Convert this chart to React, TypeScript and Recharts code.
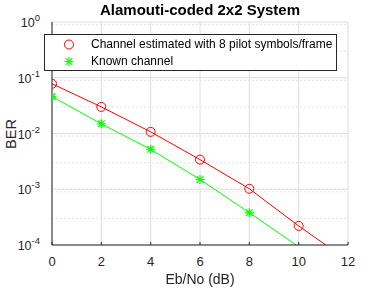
import React from "react";
import { ComposedChart, Line, XAxis, YAxis, CartesianGrid } from "recharts";

// Eb/No points where BER was simulated
const ebno = [0, 2, 4, 6, 8, 10];
const berEstimated = [0.078, 0.03, 0.0107, 0.0034, 0.00102, 0.00022];
const berKnown = [0.046, 0.0149, 0.0052, 0.0015, 0.00038];
// where the fitted curves leave the plot at the bottom
const estimatedFitEnd = { x: 11.1, y: 1e-4 };
const knownFitEnd = { x: 9.9, y: 1e-4 };

const xTicks = [0, 2, 4, 6, 8, 10, 12];
const yTicks = [1e-4, 1e-3, 1e-2, 1e-1, 1];
const yMinor = [1e-4, 1e-3, 1e-2, 1e-1].flatMap((d) => [2, 3, 4, 5, 6, 7, 8, 9].map((m) => m * d));

const RED = "#ff0000";
const GREEN = "#00ff00";
const TXT = "#262626";
const FONT = "'Liberation Sans', Arial, sans-serif";

const estRows = [...ebno.map((x, i) => ({ x, y: berEstimated[i] })), { ...estimatedFitEnd, end: true }];
const knownRows = [...berKnown.map((y, i) => ({ x: ebno[i], y })), { ...knownFitEnd, end: true }];

function Circle(props: any) {
  const { cx, cy, payload, index } = props;
  if (payload?.end || cx == null) return <g key={index} />;
  return <circle key={index} cx={cx} cy={cy} r={4.5} fill="none" stroke={RED} strokeWidth={1} />;
}

function Star(props: any) {
  const { cx, cy, payload, index } = props;
  if (payload?.end || cx == null) return <g key={index} />;
  const s = 4.5, d = 3.3;
  return (
    <g key={index} stroke={GREEN} strokeWidth={1.2}>
      <line x1={cx - s} y1={cy} x2={cx + s} y2={cy} />
      <line x1={cx} y1={cy - s} x2={cx} y2={cy + s} />
      <line x1={cx - d} y1={cy - d} x2={cx + d} y2={cy + d} />
      <line x1={cx - d} y1={cy + d} x2={cx + d} y2={cy - d} />
    </g>
  );
}

function PowTick(props: any) {
  const { x, y, payload } = props;
  const exp = Math.round(Math.log10(payload.value));
  return (
    <text x={x - 4} y={y + 5} textAnchor="end" fill={TXT} fontSize={12.5} fontFamily={FONT}>
      10<tspan dy={-6} fontSize={9.5}>{exp}</tspan>
    </text>
  );
}

export default function App() {
  return (
    <div style={{ position: "fixed", left: 0, top: 0, width: 384, height: 288, background: "#fff" }}>
      <ComposedChart width={384} height={288} margin={{ top: 22, right: 36, bottom: 18, left: 12 }}>
        <CartesianGrid horizontalValues={yMinor} vertical={false} stroke="#e3e3e3" strokeDasharray="2 2" />
        <CartesianGrid horizontalValues={yTicks} verticalValues={xTicks} stroke="#dedede" />
        <XAxis
          type="number"
          dataKey="x"
          domain={[0, 12]}
          ticks={xTicks}
          allowDataOverflow
          stroke="#262626"
          tickSize={3}
          tickLine={{ transform: "translate(0,-3)" }}
          tick={{ fill: TXT, fontSize: 13, fontFamily: FONT, dy: 7 }}
          height={25}
        />
        <YAxis
          type="number"
          scale="log"
          domain={[1e-4, 1]}
          ticks={yTicks}
          allowDataOverflow
          stroke="#262626"
          tickLine={false}
          tick={<PowTick />}
          width={40}
        />
        <Line data={estRows} dataKey="y" stroke={RED} strokeWidth={1} dot={<Circle />} isAnimationActive={false} />
        <Line data={knownRows} dataKey="y" stroke={GREEN} strokeWidth={1} dot={<Star />} isAnimationActive={false} />
      </ComposedChart>

      <div style={{ position: "absolute", left: 0, top: 1, width: 400, textAlign: "center", fontFamily: FONT, fontWeight: "bold", fontSize: 15, color: "#000" }}>
        Alamouti-coded 2x2 System
      </div>
      <div style={{ position: "absolute", left: 0, top: 271, width: 400, textAlign: "center", fontFamily: FONT, fontSize: 14, color: TXT }}>
        Eb/No (dB)
      </div>
      <div style={{ position: "absolute", left: 11, top: 134, transform: "translate(-50%,-50%) rotate(-90deg)", fontFamily: FONT, fontSize: 14.5, color: TXT }}>
        BER
      </div>

      <div style={{ position: "absolute", left: 44, top: 34, width: 293, height: 37, background: "#fff", border: "1px solid #262626", boxSizing: "border-box", fontFamily: FONT, fontSize: 12, color: "#000" }}>
        <svg width={20} height={35} style={{ position: "absolute", left: 14, top: 0 }}>
          <circle cx={10} cy={9.5} r={4.5} fill="none" stroke={RED} strokeWidth={1} />
          <Star cx={10} cy={26.5} index={0} />
        </svg>
        <div style={{ position: "absolute", left: 46, top: 2 }}>Channel estimated with 8 pilot symbols/frame</div>
        <div style={{ position: "absolute", left: 46, top: 19 }}>Known channel</div>
      </div>
    </div>
  );
}
